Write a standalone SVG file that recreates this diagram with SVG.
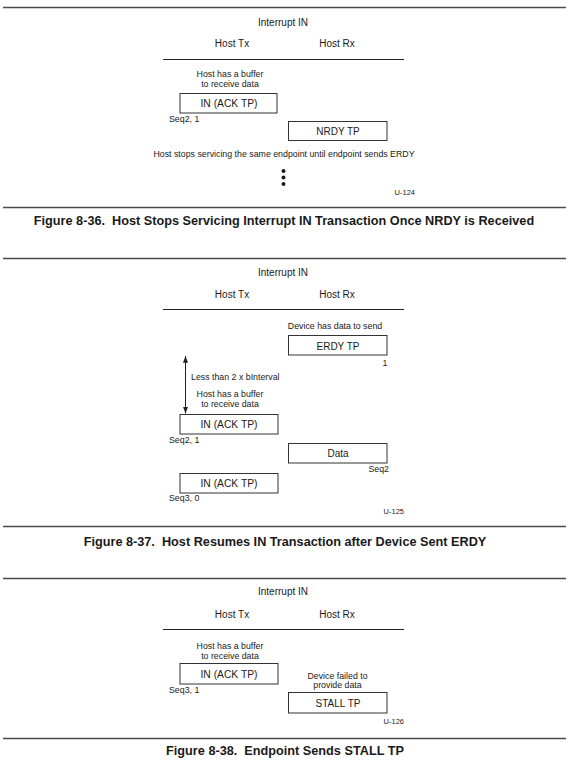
<svg xmlns="http://www.w3.org/2000/svg" width="568" height="772" viewBox="0 0 568 772">
<style>
text{font-family:"Liberation Sans",Arial,sans-serif;fill:#1a1a1a}
.t10{font-size:10px;text-anchor:middle}
.t9{font-size:8.8px;text-anchor:middle}
.s9{font-size:8.8px}
.u{font-size:7.5px;text-anchor:end}
.cap{font-size:12.7px;font-weight:bold;text-anchor:middle;white-space:pre}
.sep{stroke:#4a4a4a;stroke-width:1.6;fill:none}
.lane{stroke:#222;stroke-width:1;fill:none}
.box{fill:#fff;stroke:#333;stroke-width:1}
.conn{stroke:#222;stroke-width:1;fill:none}
</style>
<defs>
<marker id="ah" viewBox="0 0 8 6" refX="8" refY="3" markerWidth="7" markerHeight="5" markerUnits="userSpaceOnUse" orient="auto-start-reverse">
<path d="M0,0 L8,3 L0,6 Z" fill="#222"/>
</marker>
</defs>
<rect width="568" height="772" fill="#fff"/>

<g id="separators">
<line class="sep" x1="3" y1="7.5" x2="566" y2="7.5"/>
<line class="sep" x1="3" y1="207.5" x2="566" y2="207.5"/>
<line class="sep" x1="3" y1="258.5" x2="566" y2="258.5"/>
<line class="sep" x1="3" y1="526.5" x2="566" y2="526.5"/>
<line class="sep" x1="3" y1="578.5" x2="566" y2="578.5"/>
<line class="sep" x1="3" y1="738.5" x2="566" y2="738.5"/>
</g>

<!-- Figure 8-36 -->
<g id="fig36-header">
<text class="t10" x="283" y="26">Interrupt IN</text>
<text class="t10" x="232" y="47">Host Tx</text>
<text class="t10" x="337" y="47">Host Rx</text>
<line class="lane" x1="163" y1="59.5" x2="404" y2="59.5"/>
</g>
<g id="fig36-in">
<text class="t9" x="230" y="77">Host has a buffer</text>
<text class="t9" x="230" y="87">to receive data</text>
<rect class="box" x="180" y="93.5" width="97" height="19.5"/>
<text class="t10" x="229" y="107" textLength="57" lengthAdjust="spacingAndGlyphs">IN (ACK TP)</text>
<text class="s9" x="169" y="121.5">Seq2, 1</text>
</g>
<g id="fig36-nrdy">
<rect class="box" x="288.5" y="121.5" width="98.5" height="19"/>
<text class="t10" x="338" y="134.5">NRDY TP</text>
</g>
<g id="fig36-note">
<text class="t9" x="284" y="157">Host stops servicing the same endpoint until endpoint sends ERDY</text>
<circle cx="283.5" cy="171" r="2" fill="#1a1a1a"/>
<circle cx="283.5" cy="177.5" r="2" fill="#1a1a1a"/>
<circle cx="283.5" cy="184" r="2" fill="#1a1a1a"/>
<text class="u" x="415" y="195">U-124</text>
</g>
<g id="fig36-caption">
<text class="cap" x="284" y="225" xml:space="preserve">Figure 8-36.  Host Stops Servicing Interrupt IN Transaction Once NRDY is Received</text>
</g>

<!-- Figure 8-37 -->
<g id="fig37-header">
<text class="t10" x="283" y="276">Interrupt IN</text>
<text class="t10" x="232" y="298">Host Tx</text>
<text class="t10" x="337" y="298">Host Rx</text>
<line class="lane" x1="163" y1="309.5" x2="404" y2="309.5"/>
</g>
<g id="fig37-erdy">
<text class="t9" x="335" y="329">Device has data to send</text>
<rect class="box" x="288.5" y="335.5" width="98.5" height="19.5"/>
<text class="t10" x="338" y="349.5">ERDY TP</text>
<text class="t9" x="385" y="366">1</text>
</g>
<g id="fig37-interval">
<text class="s9" x="191" y="380">Less than 2 x bInterval</text>
</g>
<g id="fig37-in1">
<text class="t9" x="230" y="397">Host has a buffer</text>
<text class="t9" x="230" y="407">to receive data</text>
<rect class="box" x="180" y="414.5" width="98" height="19.5"/>
<text class="t10" x="229" y="428" textLength="57" lengthAdjust="spacingAndGlyphs">IN (ACK TP)</text>
<text class="s9" x="169" y="443">Seq2, 1</text>
</g>
<g id="fig37-data">
<rect class="box" x="288.5" y="443.5" width="98.5" height="19.5"/>
<text class="t10" x="338" y="457">Data</text>
<text class="s9" x="389" y="472" text-anchor="end">Seq2</text>
</g>
<g id="fig37-in2">
<rect class="box" x="180" y="473.5" width="98" height="19.5"/>
<text class="t10" x="229" y="487" textLength="57" lengthAdjust="spacingAndGlyphs">IN (ACK TP)</text>
<text class="s9" x="169" y="501">Seq3, 0</text>
<text class="u" x="404" y="514">U-125</text>
</g>
<g id="fig37-caption">
<text class="cap" x="285" y="546" xml:space="preserve">Figure 8-37.  Host Resumes IN Transaction after Device Sent ERDY</text>
</g>

<!-- Figure 8-38 -->
<g id="fig38-header">
<text class="t10" x="283" y="595">Interrupt IN</text>
<text class="t10" x="232" y="618">Host Tx</text>
<text class="t10" x="337" y="618">Host Rx</text>
<line class="lane" x1="163" y1="629.5" x2="404" y2="629.5"/>
</g>
<g id="fig38-in">
<text class="t9" x="230" y="649">Host has a buffer</text>
<text class="t9" x="230" y="659">to receive data</text>
<rect class="box" x="180" y="663.5" width="98" height="20.5"/>
<text class="t10" x="229" y="677.5" textLength="57" lengthAdjust="spacingAndGlyphs">IN (ACK TP)</text>
<text class="s9" x="169" y="693">Seq3, 1</text>
</g>
<g id="fig38-stall">
<text class="t9" x="337.5" y="679">Device failed to</text>
<text class="t9" x="337.5" y="688">provide data</text>
<rect class="box" x="288.5" y="692.5" width="98.5" height="20.5"/>
<text class="t10" x="338" y="707">STALL TP</text>
<text class="u" x="404" y="724">U-126</text>
</g>
<g id="fig38-caption">
<text class="cap" x="285" y="755" xml:space="preserve">Figure 8-38.  Endpoint Sends STALL TP</text>
</g>

<g id="connectors">
<line class="conn" x1="185.5" y1="356" x2="185.5" y2="413.5" marker-start="url(#ah)" marker-end="url(#ah)"/>
</g>
</svg>
